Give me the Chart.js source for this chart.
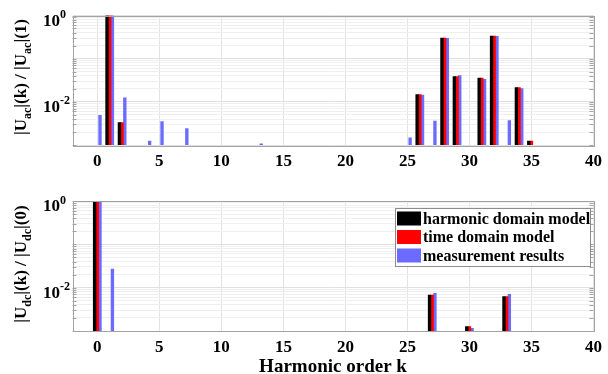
<!DOCTYPE html>
<html><head><meta charset="utf-8">
<script src="https://cdn.jsdelivr.net/npm/chart.js@4/dist/chart.umd.min.js"></script>
<style>
html,body{margin:0;padding:0;background:#fff;}
#wrap{position:relative;width:608px;height:374px;overflow:hidden;}
.box{position:absolute;left:0;width:608px;}
canvas{display:block;}
</style></head><body>
<div id="wrap">
  <div class="box" style="top:0;height:172px"><canvas id="c1" width="608" height="172"></canvas></div>
  <div class="box" style="top:172px;height:202px"><canvas id="c2" width="608" height="202"></canvas></div>
</div>
<script>
// ---------- data ----------
const seriesNames = ['harmonic domain model', 'time domain model', 'measurement results'];
const seriesColors = ['#000000', '#ff0000', '#6b6bff'];

// AC side: |Uac|(k)/|Uac|(1)
const acOrders   = [0, 1, 2, 4, 5, 7, 13, 25, 26, 27, 28, 29, 31, 32, 33, 34, 35];
const acHarmonic = [null, 1, 3.3e-3, null, null, null, null, null, 1.47e-2, null, 0.30, 0.0386, 0.0357, 0.333, null, 0.0214, 1.23e-3];
const acTime     = [null, 1, 3.3e-3, null, null, null, null, null, 1.47e-2, null, 0.30, 0.0386, 0.0357, 0.333, null, 0.0214, 1.23e-3];
const acMeasured = [4.9e-3, 1, 1.23e-2, 1.23e-3, 3.5e-3, 2.4e-3, 1.07e-3, 1.47e-3, 1.43e-2, 3.6e-3, 0.295, 0.0406, 0.033, 0.33, 3.7e-3, 0.0203, null];

// DC side: |Udc|(k)/|Udc|(0)
const dcOrders   = [0, 1, 27, 30, 33];
const dcHarmonic = [1, null, 6.7e-3, 1.26e-3, 6.2e-3];
const dcTime     = [1, null, 6.7e-3, 1.26e-3, 6.2e-3];
const dcMeasured = [1, 0.027, 7.4e-3, 1.15e-3, 7.0e-3];

const xTicks = [0, 5, 10, 15, 20, 25, 30, 35, 40];
const yLabelled = [1, 0.01];
const yLabelText = {1: ['10', '0'], 0.01: ['10', '-2']};

// ---------- drawing ----------
const SERIF = '"Liberation Serif", "Times New Roman", serif';
const BOX = '#a3a3a3';

function yTicksLog() {
  const t = [];
  for (let e = -3; e <= 0; e++) {
    for (let m = 1; m <= 9; m++) {
      const v = +(m * Math.pow(10, e)).toPrecision(6);
      if (v <= 1) t.push({value: v, major: m === 1});
    }
  }
  return t;
}

function makePlugin(cfg) {
  return {
    id: 'deco' + cfg.id,
    afterDraw(chart) {
      const ctx = chart.ctx, a = chart.chartArea, ys = chart.scales.y;
      ctx.save();
      ctx.strokeStyle = BOX; ctx.lineWidth = 1;
      ys.ticks.forEach(t => {
        const p = Math.round(ys.getPixelForValue(t.value)) + 0.5;
        ctx.beginPath();
        ctx.moveTo(a.left, p); ctx.lineTo(a.left + 4, p);
        ctx.moveTo(a.right, p); ctx.lineTo(a.right - 4, p);
        ctx.stroke();
      });
      ctx.strokeRect(Math.round(a.left) + 0.5, Math.round(a.top) + 0.5, Math.round(a.right - a.left), Math.round(a.bottom - a.top));
      ctx.fillStyle = '#000';
      ctx.textBaseline = 'alphabetic';
      ctx.textAlign = 'left';
      yLabelled.forEach(v => {
        const p = ys.getPixelForValue(v);
        const [base, exp] = yLabelText[v];
        ctx.font = 'bold 17px ' + SERIF;
        ctx.fillText(base, 43, p + 10);
        const w = ctx.measureText(base).width;
        ctx.font = 'bold 12px ' + SERIF;
        ctx.fillText(exp, 43 + w, p + 2.5);
      });
      const parts = cfg.yTitle;
      let total = 0;
      parts.forEach(pt => { ctx.font = (pt[1] ? 'bold 12px ' : 'bold 17px ') + SERIF; total += ctx.measureText(pt[0]).width; });
      ctx.translate(26, cfg.yTitleCenter);
      ctx.rotate(-Math.PI / 2);
      let x = -total / 2;
      parts.forEach(pt => {
        ctx.font = (pt[1] ? 'bold 12px ' : 'bold 17px ') + SERIF;
        ctx.fillText(pt[0], x, pt[1] ? 5 : 0);
        x += ctx.measureText(pt[0]).width;
      });
      ctx.setTransform(1, 0, 0, 1, 0, 0);
      if (cfg.legend) {
        const L = cfg.legend;
        ctx.fillStyle = '#fff';
        ctx.fillRect(L.x, L.y, L.w, L.h);
        ctx.strokeStyle = '#8c8c8c';
        ctx.strokeRect(L.x + 0.5, L.y + 0.5, L.w, L.h);
        ctx.font = 'bold 16px ' + SERIF;
        ctx.textBaseline = 'middle';
        chart.data.datasets.forEach((ds, i) => {
          const cy = L.y + 10.5 + i * 18.5;
          ctx.fillStyle = ds.backgroundColor;
          ctx.fillRect(L.x + 2, cy - 7, 24, 14);
          ctx.fillStyle = '#000';
          ctx.fillText(ds.label, L.x + 28, cy + 1);
        });
      }
      ctx.restore();
    }
  };
}

function makeChart(id, labels, series, cfg) {
  return new Chart(document.getElementById(id), {
    type: 'bar',
    data: {
      labels: labels,
      datasets: series.map((s, i) => ({
        label: seriesNames[i], data: s, backgroundColor: seriesColors[i],
        borderWidth: 0, barThickness: 2.7
      }))
    },
    options: {
      responsive: false, animation: false, devicePixelRatio: 1,
      layout: {padding: {left: 0, right: 10, top: cfg.padTop, bottom: 0}},
      plugins: {legend: {display: false}, tooltip: {enabled: false}},
      scales: {
        x: {
          type: 'linear', min: -2, max: 40, offset: false,
          afterBuildTicks: s => { s.ticks = xTicks.map(v => ({value: v})); },
          afterFit: s => { s.height = cfg.xHeight; },
          grid: {color: '#e3e3e3', drawTicks: false, offset: false},
          border: {display: false},
          ticks: {font: {family: SERIF, size: 17, weight: 'bold'}, color: '#000', padding: 6, maxRotation: 0, autoSkip: false},
          title: cfg.xTitle ? {display: true, text: 'Harmonic order k', color: '#000',
            font: {family: SERIF, size: 19, weight: 'bold', lineHeight: 0.7}, padding: {top: 0, bottom: 0}} : {display: false}
        },
        y: {
          type: 'logarithmic', min: 1e-3, max: 1,
          afterBuildTicks: s => { s.ticks = yTicksLog(); },
          afterFit: s => { s.width = 72.5; },
          grid: {color: c => (c.tick && c.tick.major) ? '#e0e0e0' : '#efefef', drawTicks: false},
          border: {display: false},
          ticks: {display: false}
        }
      }
    },
    plugins: [makePlugin(cfg)]
  });
}

makeChart('c1', acOrders, [acHarmonic, acTime, acMeasured], {
  id: 1, padTop: 15.5, xHeight: 27, xTitle: false, yTitleCenter: 77,
  yTitle: [['|U', 0], ['ac', 1], ['|(k) / |U', 0], ['ac', 1], ['|(1)', 0]]
});
makeChart('c2', dcOrders, [dcHarmonic, dcTime, dcMeasured], {
  id: 2, padTop: 29, xHeight: 43, xTitle: true, yTitleCenter: 92,
  yTitle: [['|U', 0], ['dc', 1], ['|(k) / |U', 0], ['dc', 1], ['|(0)', 0]],
  legend: {x: 395, y: 36, w: 195, h: 58}
});
</script>
</body></html>
